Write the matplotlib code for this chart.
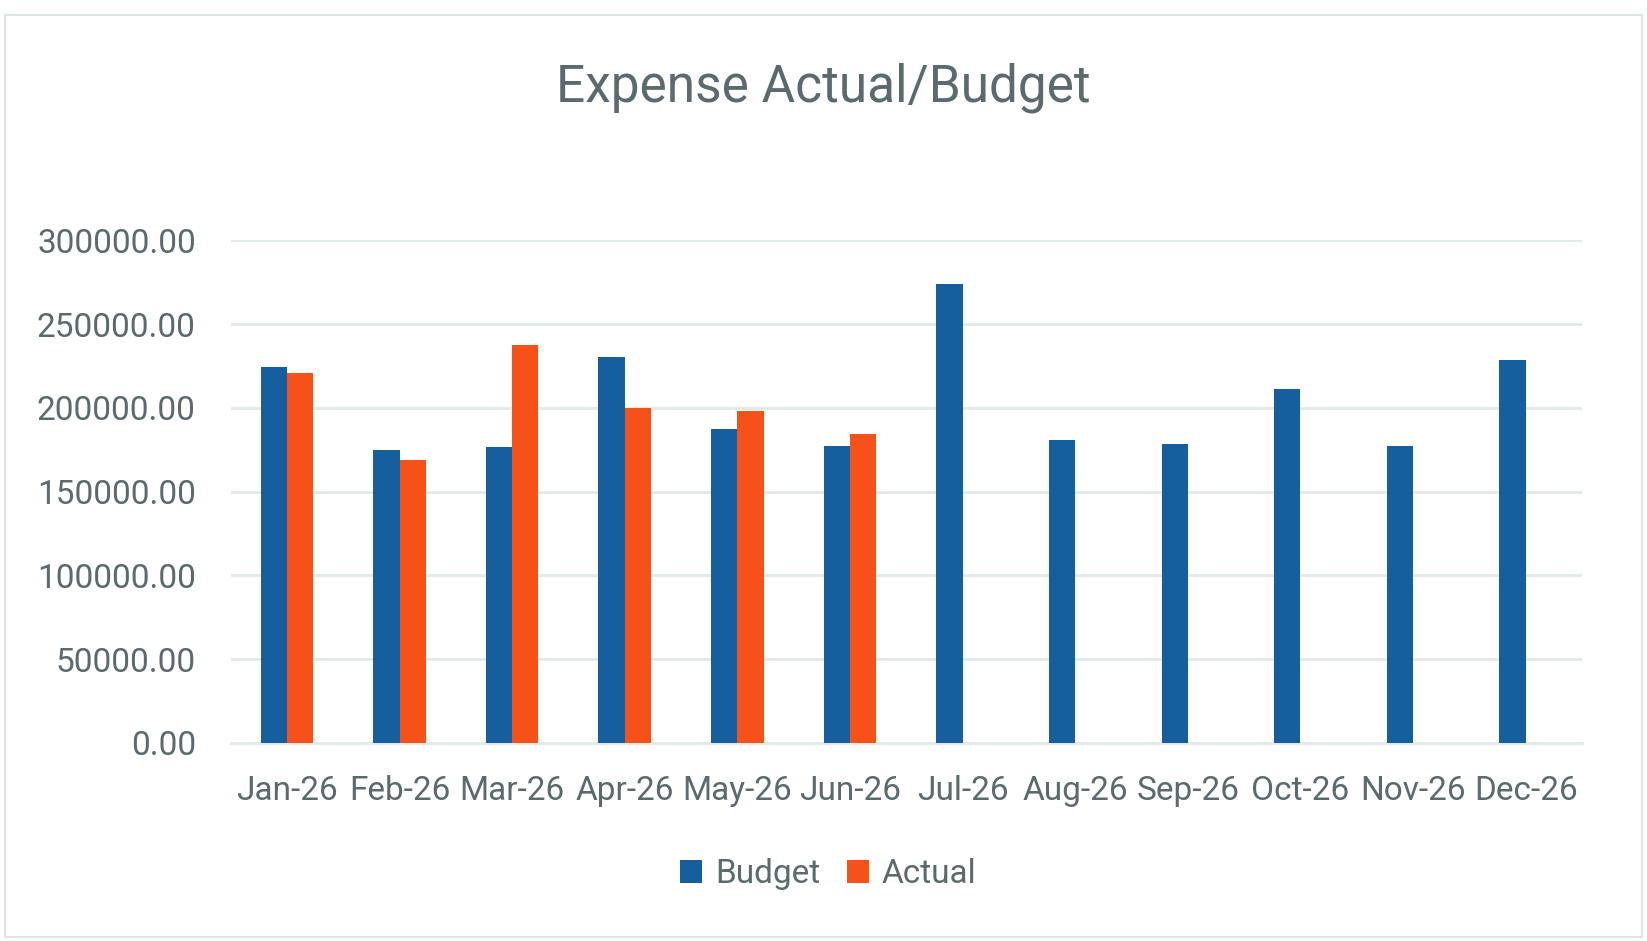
import matplotlib
matplotlib.use("Agg")
import matplotlib.pyplot as plt
import numpy as np
from matplotlib.patches import Rectangle

plt.rcParams['font.family'] = ['Roboto', 'DejaVu Sans']

BUDGET = '#155F9F'
ACTUAL = '#F55118'
TEXT = '#5A6A6E'
GRID = '#E2E9E9'

months = ['Jan-26', 'Feb-26', 'Mar-26', 'Apr-26', 'May-26', 'Jun-26',
          'Jul-26', 'Aug-26', 'Sep-26', 'Oct-26', 'Nov-26', 'Dec-26']
budget = [224600, 175000, 176800, 230600, 187400, 177400,
          273700, 181100, 178700, 211000, 177500, 228500]
actual = [221000, 168800, 237800, 200000, 198000, 184200]

fig = plt.figure(figsize=(16.47, 9.41), dpi=100)
fig.patch.set_facecolor('white')

# chart frame
fig.patches.append(Rectangle((0.003, 0.004), 0.994, 0.98, transform=fig.transFigure,
                             fill=False, edgecolor='#DDE5E5', linewidth=1.5))

ax = fig.add_axes([0.140, 0.2105, 0.8205, 0.534])
x = np.arange(len(months))
w = 0.233
ax.bar(x - w/2, budget, w, color=BUDGET, zorder=3, label='Budget')
ax.bar(x[:len(actual)] + w/2, actual, w, color=ACTUAL, zorder=3, label='Actual')

ax.set_xlim(-0.5, len(months) - 0.5)
ax.set_ylim(0, 300000)
ax.set_yticks(np.arange(0, 300001, 50000))
ax.set_yticklabels([f'{v:.2f}' for v in np.arange(0, 300001, 50000)])
ax.set_xticks(x)
ax.set_xticklabels(months)
ax.yaxis.grid(True, color=GRID, linewidth=2, zorder=0)
ax.set_axisbelow(True)
for s in ['top', 'right', 'left']:
    ax.spines[s].set_visible(False)
ax.spines['bottom'].set_color(GRID)
ax.spines['bottom'].set_linewidth(2)
ax.tick_params(axis='both', length=0, labelsize=24, colors=TEXT)
ax.tick_params(axis='y', pad=25)
ax.tick_params(axis='x', pad=23)

fig.text(0.5, 0.907, 'Expense Actual/Budget', ha='center', va='center',
         fontsize=37, color=TEXT)

fig.legend(loc='center', bbox_to_anchor=(0.503, 0.071), ncol=2, frameon=False,
           fontsize=24, labelcolor=TEXT, handlelength=0.65, handleheight=0.65,
           columnspacing=0.8, handletextpad=0.4)

fig.savefig('out.png', dpi=100, facecolor='white')
